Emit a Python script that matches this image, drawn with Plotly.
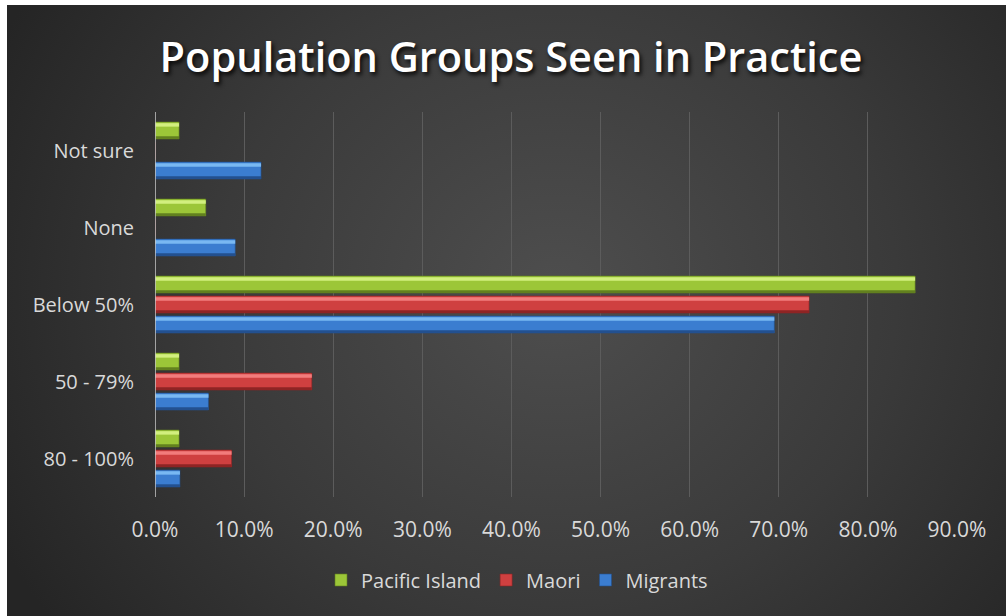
import base64
import plotly.graph_objects as go

# Survey responses: share of each population group seen in practice
categories = ["80 - 100%", "50 - 79%", "Below 50%", "None", "Not sure"]
pacific_island = [0.027, 0.027, 0.853, 0.057, 0.027]
maori = [0.086, 0.176, 0.734, 0.0, 0.0]
migrants = [0.028, 0.060, 0.695, 0.090, 0.119]
x_ticks = [0.0, 0.1, 0.2, 0.3, 0.4, 0.5, 0.6, 0.7, 0.8, 0.9]

# series: name, values, base colour, highlight, shade, slot offset
series = [
    ("Migrants", migrants, "#3b7dd0", "#79b8f2", "#23508f", -0.37),
    ("Maori", maori, "#cf4040", "#f27c7c", "#8e2424", -0.11),
    ("Pacific Island", pacific_island, "#9cc638", "#d2ef7e", "#62801f", 0.15),
]
BAR_W = 0.22

fig = go.Figure()
for name, vals, base_c, hi_c, sh_c, off in series:
    fig.add_trace(go.Bar(
        y=categories, x=vals, orientation="h", name=name,
        offset=off, width=BAR_W,
        marker=dict(color=base_c, line=dict(color=sh_c, width=0.6)),
        hovertemplate="%{y}: %{x:.1%}<extra>" + name + "</extra>",
    ))
    # lighter top edge for a bevelled look
    fig.add_trace(go.Bar(
        y=categories, x=vals, orientation="h", showlegend=False,
        offset=off + BAR_W - 0.06, width=0.045,
        marker=dict(color=hi_c, line=dict(width=0)), hoverinfo="skip",
    ))
    # darker bottom edge
    fig.add_trace(go.Bar(
        y=categories, x=vals, orientation="h", showlegend=False,
        offset=off, width=0.035,
        marker=dict(color=sh_c, line=dict(width=0)), hoverinfo="skip",
    ))

# radial-gradient backdrop as an inline SVG
svg = (
    '<svg xmlns="http://www.w3.org/2000/svg" width="999" height="611" '
    'preserveAspectRatio="none">'
    '<defs><radialGradient id="g" cx="0.55" cy="0.47" r="0.62" '
    'gradientTransform="translate(0.55 0.47) scale(1 1.5) translate(-0.55 -0.47)">'
    '<stop offset="0" stop-color="#4e4e4e"/>'
    '<stop offset="0.55" stop-color="#3a3a3a"/>'
    '<stop offset="1" stop-color="#252525"/>'
    '</radialGradient></defs>'
    '<rect width="999" height="611" fill="url(#g)"/></svg>'
)
bg_src = "data:image/svg+xml;base64," + base64.b64encode(svg.encode()).decode()

L, R, T, B = 155, 957, 112, 497
PW, PH = R - L, B - T
fig.add_layout_image(
    source=bg_src, xref="paper", yref="paper",
    x=(7 - L) / PW, y=(B - 5) / PH,
    sizex=(1006 - 7) / PW, sizey=(616 - 5) / PH,
    xanchor="left", yanchor="top", sizing="stretch", layer="below",
)

FONT = "'Open Sans', Lato, sans-serif"
label_font = dict(family=FONT, size=20, color="#d9d9d9")
xtick_font = dict(family=FONT, size=21, color="#d9d9d9")

fig.update_layout(
    width=1006, height=616,
    margin=dict(l=L, r=1006 - R, t=T, b=616 - B),
    paper_bgcolor="#ffffff",
    plot_bgcolor="rgba(0,0,0,0)",
    barmode="overlay",
    title=dict(
        text="Population Groups Seen in Practice",
        x=511 / 1006, xanchor="center", y=1 - 57 / 616, yanchor="middle",
        font=dict(family=FONT, size=41.5, weight=600, color="#ffffff",
                  shadow="2px 3px 4px rgba(0,0,0,0.85)"),
    ),
    xaxis=dict(
        range=[0, 0.9], tickvals=x_ticks, tickformat=".1%",
        showgrid=True, gridcolor="#5c5c5c", gridwidth=1,
        zeroline=False, showline=False, ticks="",
        tickfont=xtick_font, ticklabelstandoff=18,
    ),
    yaxis=dict(
        categoryorder="array", categoryarray=categories,
        showgrid=False, zeroline=False, ticks="",
        showline=False, tickfont=label_font, ticklabelstandoff=20,
        range=[-0.5, 4.5],
    ),
    legend=dict(
        orientation="h", traceorder="reversed",
        x=(517 - L) / PW, xanchor="center",
        y=(B - 580) / PH, yanchor="middle",
        font=label_font, bgcolor="rgba(0,0,0,0)",
        itemwidth=30,
    ),
    showlegend=True,
)

# vertical value axis line at zero
fig.add_shape(type="line", xref="x", yref="paper", x0=0, x1=0, y0=0, y1=1,
              line=dict(color="#c8c8c8", width=1.5), layer="above")

fig.write_html("out.html")
